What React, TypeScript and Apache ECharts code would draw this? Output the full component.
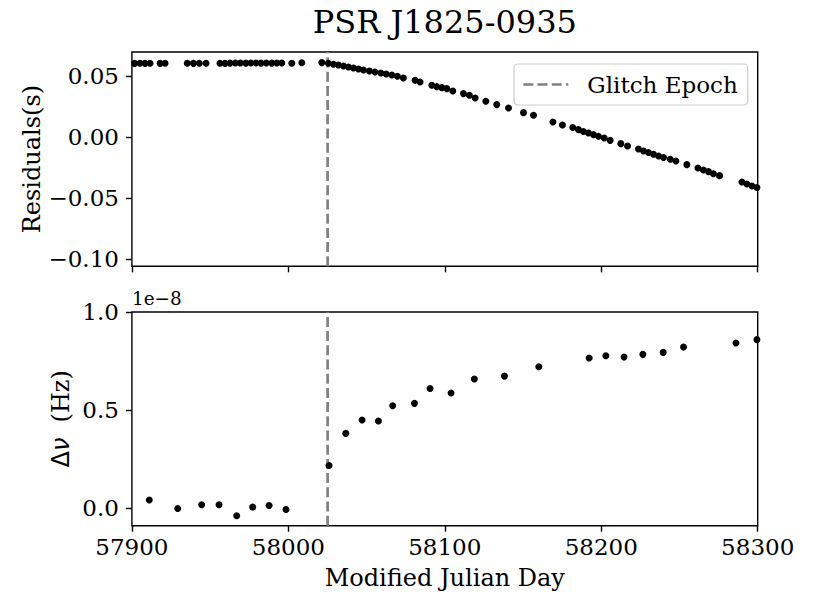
import React, { useEffect, useRef } from "react";
import * as echarts from "echarts";

// ---------- data ----------
const GLITCH_EPOCH = 58025.1;
const X_TICKS = [57900, 58000, 58100, 58200, 58300];
const RESID_TICKS = [-0.1, -0.05, 0, 0.05];
const DNU_TICKS = [0, 0.5, 1.0];

// Timing residuals (s)
const residMjd = [
  57901.7, 57905.2, 57908.4, 57911.6, 57918.0, 57921.2, 57935.4, 57939.3, 57943.1, 57947.4,
  57956.3, 57959.5, 57962.7, 57966.1, 57969.3, 57972.8, 57976.0, 57979.3, 57982.5, 57985.9,
  57989.4, 57992.6, 57995.8, 58002.2, 58008.6, 58021.4,
  58025.6, 58028.8, 58032.0, 58035.2, 58038.4, 58041.6, 58044.8, 58048.0, 58051.8, 58055.4,
  58059.1, 58062.5, 58066.1, 58069.7, 58073.5, 58081.0, 58084.2, 58091.7, 58094.9, 58098.1,
  58101.3, 58105.1, 58111.9, 58115.7, 58119.4, 58126.2, 58133.2, 58140.7, 58150.3, 58156.7,
  58169.1, 58175.2, 58181.8, 58185.4, 58188.6, 58191.8, 58195.0, 58198.2, 58201.9, 58205.7,
  58212.5, 58216.8, 58223.8, 58227.0, 58230.2, 58233.4, 58236.6, 58239.8, 58244.1, 58247.7,
  58254.7, 58261.8, 58265.3, 58268.5, 58271.7, 58275.6, 58289.9, 58293.1, 58296.3, 58299.5,
];
const residSec = [
  0.0606, 0.0607, 0.0606, 0.0607, 0.0606, 0.0607, 0.0607, 0.0606, 0.0607, 0.0607,
  0.0607, 0.0606, 0.0608, 0.0609, 0.0609, 0.0608, 0.0609, 0.0609, 0.0608, 0.0609,
  0.0608, 0.0609, 0.0609, 0.0607, 0.0611, 0.0612,
  0.0607, 0.0598, 0.0593, 0.0585, 0.0576, 0.0568, 0.0560, 0.0552, 0.0543, 0.0535,
  0.0527, 0.0519, 0.0511, 0.0500, 0.0486, 0.0467, 0.0453, 0.0426, 0.0415, 0.0407,
  0.0399, 0.0380, 0.0358, 0.0344, 0.0322, 0.0295, 0.0268, 0.0240, 0.0202, 0.0180,
  0.0125, 0.0101, 0.0080, 0.0063, 0.0047, 0.0035, 0.0022, 0.0008, -0.0006, -0.0025,
  -0.0052, -0.0071, -0.0096, -0.0112, -0.0125, -0.0139, -0.0153, -0.0166, -0.0180, -0.0194,
  -0.0224, -0.0252, -0.0268, -0.0281, -0.0298, -0.0314, -0.0366, -0.0383, -0.0399, -0.0412,
];

// Frequency offset (units of 1e-8 Hz)
const dnuMjd = [
  57911.1, 57929.3, 57944.6, 57955.7, 57967.0, 57977.2, 57987.7, 57998.5,
  58026.0, 58036.7, 58047.1, 58057.6, 58066.7, 58080.6, 58090.6, 58104.0,
  58118.9, 58138.1, 58160.1, 58192.3, 58202.9, 58214.6, 58226.6, 58239.6,
  58252.6, 58286.1, 58299.5,
];
const dnuE8 = [
  0.041, -0.002, 0.017, 0.017, -0.039, 0.005, 0.013, -0.007,
  0.217, 0.381, 0.449, 0.444, 0.522, 0.534, 0.610, 0.587,
  0.658, 0.673, 0.721, 0.765, 0.777, 0.770, 0.784, 0.794,
  0.821, 0.842, 0.859,
];

const RESID_MIN = -0.1057;
const RESID_MAX = 0.0699;
const DNU_MIN = -0.09;
const DNU_MAX = 1.0;

// ---------- styling ----------
const SERIF = "DejaVu Serif";
const FS_TICK = 23;
const FS_LABEL = 24;
const GRID_LEFT = 131.9;
const GRID_W = 625.8;

const fmtSigned = (v: number, d: number) =>
  (v < -1e-12 ? "\u2212" : "") + Math.abs(v).toFixed(d);

export default function App() {
  const ref = useRef<HTMLDivElement>(null);

  useEffect(() => {
    if (!ref.current) return;
    const chart = echarts.init(ref.current, undefined, { renderer: "svg" });

    const residData = residMjd.map((m, i) => [m, residSec[i]]);
    const dnuData = dnuMjd.map((m, i) => [m, dnuE8[i]]);

    const tickStyle = { color: "#000", width: 1.4 };
    const labelStyle = { fontFamily: SERIF, fontSize: FS_TICK, color: "#000" };
    const glitchLine = { color: "#808080", width: 2.7, type: [10, 4.2] as number[] };

    const option: any = {
      animation: false,
      backgroundColor: "#fff",
      title: {
        text: "PSR J1825-0935",
        left: GRID_LEFT + GRID_W / 2,
        textAlign: "center",
        top: 6,
        padding: 0,
        textStyle: { fontFamily: SERIF, fontSize: 32, fontWeight: "normal", color: "#000" },
      },
      legend: {
        data: ["Glitch Epoch"],
        left: 514,
        top: 64,
        orient: "vertical",
        backgroundColor: "rgba(255,255,255,0.8)",
        borderColor: "#cccccc",
        borderWidth: 1.2,
        borderRadius: 4,
        padding: [9, 10, 9, 8],
        itemWidth: 45,
        itemHeight: 14,
        itemStyle: { opacity: 0 },
        lineStyle: { color: "#808080", width: 2.7, type: [10, 4.2] },
        textStyle: { fontFamily: SERIF, fontSize: 23, color: "#000", padding: [0, 0, 0, 14], lineHeight: 22 },
      },
      grid: [
        {
          left: GRID_LEFT, top: 52, width: GRID_W, height: 214.3,
          show: true, borderColor: "#000", borderWidth: 1.4, backgroundColor: "transparent",
        },
        {
          left: GRID_LEFT, top: 312, width: GRID_W, height: 213.7,
          show: true, borderColor: "#000", borderWidth: 1.4, backgroundColor: "transparent",
        },
      ],
      xAxis: [
        {
          gridIndex: 0, type: "value", min: X_TICKS[0], max: X_TICKS[X_TICKS.length - 1], interval: 100,
          position: "bottom",
          axisLine: { show: false, onZero: false },
          axisTick: { show: true, length: 6, lineStyle: tickStyle },
          axisLabel: { show: false },
          splitLine: { show: false },
        },
        {
          gridIndex: 1, type: "value", min: X_TICKS[0], max: X_TICKS[X_TICKS.length - 1], interval: 100,
          position: "bottom",
          axisLine: { show: false, onZero: false },
          axisTick: { show: true, length: 6, lineStyle: tickStyle },
          axisLabel: { ...labelStyle, margin: 10, formatter: (v: number) => String(v) },
          splitLine: { show: false },
          name: "Modified Julian Day",
          nameLocation: "middle",
          nameGap: 40,
          nameMoveOverlap: false,
          nameTextStyle: { fontFamily: SERIF, fontSize: FS_LABEL, color: "#000" },
        },
      ],
      yAxis: [
        {
          gridIndex: 0, type: "value", min: RESID_MIN, max: RESID_MAX,
          axisLine: { show: false, onZero: false },
          axisTick: { show: true, length: 6, lineStyle: tickStyle, customValues: RESID_TICKS },
          axisLabel: { ...labelStyle, margin: 13, customValues: RESID_TICKS, formatter: (v: number) => fmtSigned(v, 2) },
          splitLine: { show: false },
          name: "Residuals(s)",
          nameLocation: "middle",
          nameRotate: 90,
          nameGap: 88,
          nameMoveOverlap: false,
          nameTextStyle: { fontFamily: SERIF, fontSize: FS_LABEL, color: "#000" },
        },
        {
          gridIndex: 1, type: "value", min: DNU_MIN, max: DNU_MAX,
          axisLine: { show: false, onZero: false },
          axisTick: { show: true, length: 6, lineStyle: tickStyle, customValues: DNU_TICKS },
          axisLabel: { ...labelStyle, margin: 13, customValues: DNU_TICKS, formatter: (v: number) => fmtSigned(v, 1) },
          splitLine: { show: false },
          name: "{s|\u0394}{i|\u03bd}{t|  (Hz)}",
          nameLocation: "middle",
          nameRotate: 90,
          nameGap: 59,
          nameMoveOverlap: false,
          nameTextStyle: {
            color: "#000",
            rich: {
              s: { fontFamily: "DejaVu Sans", fontSize: FS_LABEL, color: "#000" },
              i: { fontFamily: "DejaVu Sans", fontStyle: "italic", fontSize: FS_LABEL, color: "#000" },
              t: { fontFamily: SERIF, fontSize: FS_LABEL, color: "#000" },
            },
          },
        },
      ],
      graphic: [
        {
          type: "text",
          left: 132,
          top: 289,
          style: { text: "1e\u22128", font: `18.4px "${SERIF}"`, fill: "#000" },
        },
      ],
      series: [
        {
          name: "Residuals",
          type: "scatter",
          xAxisIndex: 0, yAxisIndex: 0,
          data: residData,
          symbol: "circle",
          symbolSize: 7,
          itemStyle: { color: "#000", opacity: 1 },
          z: 3,
        },
        {
          name: "Glitch Epoch",
          type: "line",
          xAxisIndex: 0, yAxisIndex: 0,
          data: [[GLITCH_EPOCH, RESID_MIN], [GLITCH_EPOCH, RESID_MAX]],
          symbol: "none",
          showSymbol: false,
          lineStyle: glitchLine,
          itemStyle: { color: "#808080" },
          z: 2,
        },
        {
          name: "Delta nu",
          type: "scatter",
          xAxisIndex: 1, yAxisIndex: 1,
          data: dnuData,
          symbol: "circle",
          symbolSize: 7,
          itemStyle: { color: "#000", opacity: 1 },
          z: 3,
        },
        {
          name: "Glitch Epoch",
          type: "line",
          xAxisIndex: 1, yAxisIndex: 1,
          data: [[GLITCH_EPOCH, DNU_MIN], [GLITCH_EPOCH, DNU_MAX]],
          symbol: "none",
          showSymbol: false,
          lineStyle: glitchLine,
          itemStyle: { color: "#808080" },
          z: 2,
        },
      ],
    };

    chart.setOption(option);
    return () => chart.dispose();
  }, []);

  return (
    <div
      ref={ref}
      style={{ position: "absolute", left: 0, top: 0, width: 814, height: 610, background: "#fff" }}
    />
  );
}
